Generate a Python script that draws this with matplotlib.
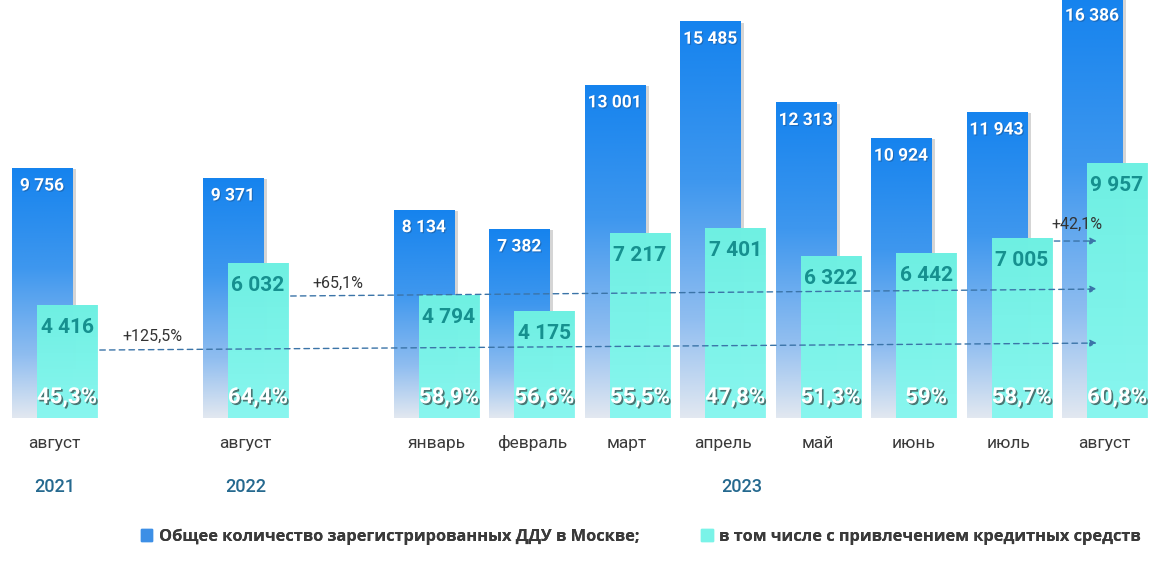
import matplotlib
matplotlib.use("Agg")
import matplotlib.pyplot as plt
import matplotlib.patheffects as pe
from matplotlib.colors import LinearSegmentedColormap
from matplotlib.patches import Patch
from matplotlib.font_manager import FontProperties
import numpy as np

months = ["август", "август", "январь", "февраль", "март", "апрель", "май", "июнь", "июль", "август"]
slots = [0, 2, 4, 5, 6, 7, 8, 9, 10, 11]
total = [9756, 9371, 8134, 7382, 13001, 15485, 12313, 10924, 11943, 16386]
credit = [4416, 6032, 4794, 4175, 7217, 7401, 6322, 6442, 7005, 9957]
share = ["45,3%", "64,4%", "58,9%", "56,6%", "55,5%", "47,8%", "51,3%", "59%", "58,7%", "60,8%"]
years = ["2021", "2022", "2023"]
year_pos = [0, 2, 7.2]
growth = ["+125,5%", "+65,1%", "+42,1%"]

plt.rcParams['font.family'] = ['Roboto', 'DejaVu Sans']

fig = plt.figure(figsize=(11.63, 5.68), dpi=100)
ax = fig.add_axes([0, 0.264, 1, 0.736])
ax.set_xlim(-0.571, 11.613)
ax.set_ylim(0, 16309)
ax.axis('off')

blue_cmap = LinearSegmentedColormap.from_list(
    "blue", [(0, "#e2e8f0"), (0.25, "#8fbdf0"), (0.6, "#3e97ee"), (1, "#1583ee")])
cyan_cmap = LinearSegmentedColormap.from_list(
    "cyan", [(0, "#8af7f0"), (1, "#6ef0e2")])
grad = np.linspace(0, 1, 256).reshape(-1, 1)

w = 0.629
off = 0.131
xs = np.array(slots, dtype=float)

blue_bars = ax.bar(xs - off, total, width=w, color="#3d8fe6", edgecolor="none", zorder=2,
                   path_effects=[pe.SimplePatchShadow(offset=(3, -1), shadow_rgbFace="#888888", alpha=0.35), pe.Normal()])
cyan_bars = ax.bar(xs + off, credit, width=w, color="#7af3e8", edgecolor="none", zorder=4, alpha=0.92)

for bars, cmap, z, a in [(blue_bars, blue_cmap, 3, 1.0), (cyan_bars, cyan_cmap, 5, 0.92)]:
    for b in bars:
        x0, h, bw = b.get_x(), b.get_height(), b.get_width()
        im = ax.imshow(grad, cmap=cmap, origin="lower", aspect="auto",
                       extent=(x0, x0 + bw, 0, h), zorder=z, alpha=a)
        im.set_clip_path(b)

ax.set_xlim(-0.571, 11.613)
ax.set_ylim(0, 16309)

shadow = [pe.withSimplePatchShadow(offset=(1.2, -1.2), shadow_rgbFace="#222222", alpha=0.6)]

for x, t, c, s in zip(xs, total, credit, share):
    ax.annotate(f"{t:,}".replace(",", " "), (x - off, t), xytext=(0, -13), textcoords="offset points",
                ha="center", va="center", color="white", fontsize=12.5, fontweight="bold",
                zorder=8, annotation_clip=False,
                path_effects=[pe.withSimplePatchShadow(offset=(0.8, -0.8), shadow_rgbFace="#1a4f8a", alpha=0.5)])
    ax.annotate(f"{c:,}".replace(",", " "), (x + off, c), xytext=(0, -16), textcoords="offset points",
                ha="center", va="center", color="#16908f", fontsize=15, fontweight="bold", zorder=8)
    ax.annotate(s, (x + off, 0), xytext=(0, 15), textcoords="offset points",
                ha="center", va="center", color="white", fontsize=16, fontweight="bold",
                zorder=8, path_effects=shadow)

for x, m in zip(xs, months):
    ax.annotate(m, (x, 0), xycoords=("data", "axes fraction"), xytext=(0, -18), textcoords="offset points",
                ha="center", va="center", color="#3a3a3a", fontsize=12.5, annotation_clip=False)
for x, yname in zip(year_pos, years):
    ax.annotate(yname, (x, 0), xycoords=("data", "axes fraction"), xytext=(0, -50), textcoords="offset points",
                ha="center", va="center", color="#25698f", fontsize=13, fontweight="medium", annotation_clip=False)

# dashed growth arrows
arrow_kw = dict(arrowstyle="-|>", linestyle=(0, (4, 3)), color="#3b74a8", lw=1.0, mutation_scale=10)
ax.annotate("", xy=(10.95, 2926), xytext=(0.445, 2653), arrowprops=arrow_kw, zorder=6)
ax.annotate("", xy=(10.95, 5033), xytext=(2.445, 4760), arrowprops=arrow_kw, zorder=6)
ax.annotate("", xy=(10.95, 6906), xytext=(10.445, 6906), arrowprops=arrow_kw, zorder=6)
ax.text(1.03, 3200, growth[0], ha="center", va="center", fontsize=11.5, color="#333333", zorder=7)
ax.text(2.97, 5267, growth[1], ha="center", va="center", fontsize=11.5, color="#333333", zorder=7)
ax.text(10.71, 7570, growth[2], ha="center", va="center", fontsize=11.5, color="#333333", zorder=7)

# legend: two separate entries placed like the original
labels = ["Общее количество зарегистрированных ДДУ в Москве;", "в том числе с привлечением кредитных средств"]
leg_colors = ["#3d8fe6", "#7af3e8"]
leg_x = [0.121, 0.603]
leg_font = FontProperties(family=["Open Sans", "DejaVu Sans"], weight="bold", size=11.8)
for lab, col, lx in zip(labels, leg_colors, leg_x):
    lg = fig.legend([Patch(color=col)], [lab], loc="center left", bbox_to_anchor=(lx, 0.055),
                    frameon=False, handlelength=0.7, handleheight=0.7, handletextpad=0.4,
                    borderpad=0, borderaxespad=0, prop=leg_font, labelcolor="#3a3a3a")
    fig.add_artist(lg)

fig.savefig("out.png", dpi=100)
